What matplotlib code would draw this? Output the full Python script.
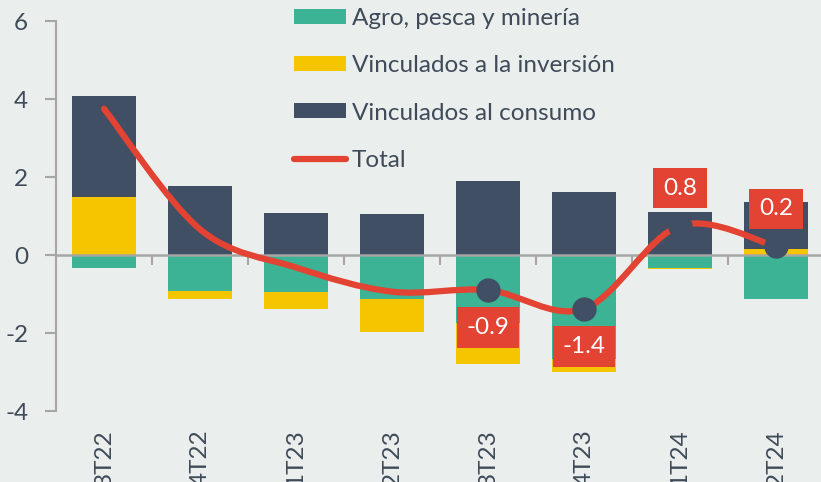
import numpy as np
import matplotlib
matplotlib.use("Agg")
import matplotlib.pyplot as plt
from matplotlib.path import Path
from matplotlib.patches import PathPatch, Patch
from matplotlib.lines import Line2D

plt.rcParams['font.family'] = ['Lato', 'DejaVu Sans']

categories = ["3T22", "4T22", "1T23", "2T23", "3T23", "4T23", "1T24", "2T24"]
agro = [-0.33, -0.92, -0.95, -1.14, -1.75, -2.67, -0.34, -1.14]
inversion = [1.48, -0.20, -0.44, -0.84, -1.04, -0.32, -0.02, 0.15]
consumo = [2.60, 1.78, 1.07, 1.04, 1.89, 1.61, 1.11, 1.21]
total = [3.75, 0.66, -0.32, -0.94, -0.90, -1.38, 0.75, 0.22]
labeled_idx = [4, 5, 6, 7]
label_texts = ["-0.9", "-1.4", "0.8", "0.2"]
y_ticks = [-4, -2, 0, 2, 4, 6]

series_names = ["Agro, pesca y minería", "Vinculados a la inversión", "Vinculados al consumo"]
colors = ["#3BB394", "#F5C500", "#404F63"]
red = "#E34333"
bg = "#EAEEEC"
txt = "#404B5A"
gray = "#A6A6A6"
FS = 17.5

W, H = 821, 482
fig = plt.figure(figsize=(W / 100, H / 100), dpi=100, facecolor=bg)
ax = fig.add_axes([56 / W, (H - 411) / H, (824 - 56) / W, 390 / H])
ax.set_facecolor(bg)

x = np.arange(len(categories))
pos = np.zeros(len(x))
neg = np.zeros(len(x))
for vals, c in zip([agro, inversion, consumo], colors):
    v = np.array(vals)
    bottoms = np.where(v >= 0, pos, neg)
    ax.bar(x, v, bottom=bottoms, width=0.667, color=c, zorder=1)
    pos += np.where(v >= 0, v, 0)
    neg += np.where(v < 0, v, 0)

# smooth line (Catmull-Rom -> cubic Bezier)
pts = np.column_stack([x, total]).astype(float)
verts = [pts[0]]
codes = [Path.MOVETO]
n = len(pts)
for i in range(n - 1):
    p0 = pts[i - 1] if i > 0 else pts[i]
    p1 = pts[i]
    p2 = pts[i + 1]
    p3 = pts[i + 2] if i + 2 < n else pts[i + 1]
    c1 = p1 + (p2 - p0) / 6.0
    c2 = p2 - (p3 - p1) / 6.0
    verts += [c1, c2, p2]
    codes += [Path.CURVE4] * 3
ax.add_patch(PathPatch(Path(verts, codes), facecolor='none', edgecolor=red,
                       lw=4.5, capstyle='round', joinstyle='round', zorder=4))

xi = [x[i] for i in labeled_idx]
yi = [total[i] for i in labeled_idx]
ax.plot(xi, yi, 'o', ms=16.5, color=colors[2], zorder=5, linestyle='none')
for i, t in zip(labeled_idx, label_texts):
    off = -27 if total[i] < 0 else 27
    ax.annotate(t, (x[i], total[i]), xytext=(0, off), textcoords='offset points',
                ha='center', va='center', color='white', fontsize=FS, zorder=6,
                bbox=dict(boxstyle='square,pad=0.4', fc=red, ec='none'))

ax.set_xlim(-0.5, 7.5)
ax.set_ylim(-4, 6)
ax.set_yticks(y_ticks)
ax.set_yticklabels([str(v) for v in y_ticks])
ax.tick_params(axis='y', direction='out', length=8, width=1.5, color=gray,
               labelsize=FS, labelcolor=txt, pad=12)
for s in ['top', 'right']:
    ax.spines[s].set_visible(False)
ax.spines['left'].set_color(gray)
ax.spines['left'].set_linewidth(1.5)
ax.spines['bottom'].set_position(('data', 0))
ax.spines['bottom'].set_color(gray)
ax.spines['bottom'].set_linewidth(1.8)
ax.spines['bottom'].set_zorder(3)
ax.set_xticks(x[:-1] + 0.5)
ax.set_xticklabels([])
ax.tick_params(axis='x', direction='out', length=7, width=1.5, color=gray)

sec = ax.secondary_xaxis('bottom')
sec.set_xticks(x)
sec.set_xticklabels(categories, rotation=90, va='top', ha='center')
sec.tick_params(axis='x', length=0, labelsize=FS, labelcolor=txt, pad=13)
sec.spines['bottom'].set_visible(False)

handles = [Patch(fc=c, ec='none') for c in colors]
handles.append(Line2D([], [], color=red, lw=4.5, solid_capstyle='round'))
fig.legend(handles, series_names + ["Total"], loc='upper left',
           bbox_to_anchor=(294 / W, 1 - 8 / H), frameon=False, fontsize=FS,
           labelcolor=txt, handlelength=2.14, handleheight=0.58,
           handletextpad=0.25, labelspacing=1.08, borderpad=0, borderaxespad=0)

fig.savefig("out.png", dpi=100, facecolor=bg)
